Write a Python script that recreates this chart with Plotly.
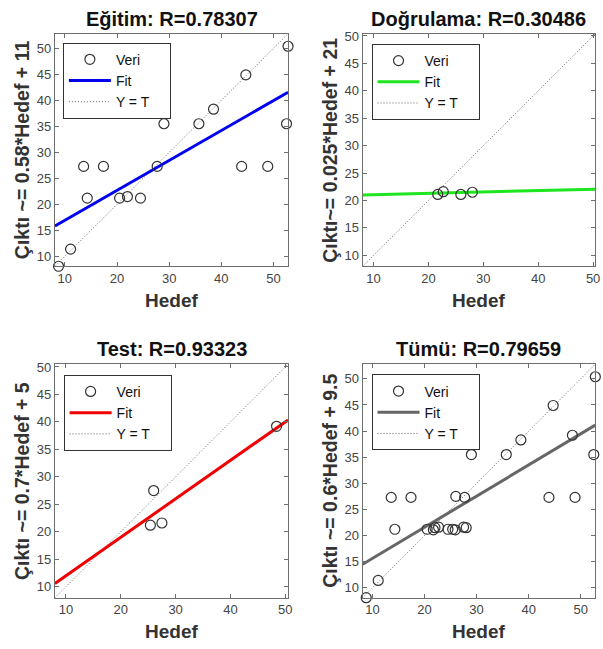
import plotly.graph_objects as go

# ---------------- data ----------------
train_t = [8.8, 11.1, 13.6, 14.3, 17.4, 20.5, 22.0, 24.5, 27.7, 29.0, 35.7, 38.5, 43.9, 44.7, 48.9, 52.5, 52.8]
train_y = [8.1, 11.4, 27.3, 21.2, 27.3, 21.2, 21.5, 21.2, 27.3, 35.5, 35.5, 38.3, 27.3, 44.9, 27.3, 35.5, 50.4]
val_t = [21.7, 22.7, 25.9, 28.0]
val_y = [21.1, 21.6, 21.1, 21.5]
test_t = [25.4, 26.0, 27.5, 48.4]
test_y = [21.2, 27.5, 21.6, 39.2]
all_t = train_t + val_t + test_t
all_y = train_y + val_y + test_y

titles = ["Eğitim: R=0.78307", "Doğrulama: R=0.30486", "Test: R=0.93323", "Tümü: R=0.79659"]
ylabels = ["Çıktı ~= 0.58*Hedef + 11", "Çıktı~= 0.025*Hedef + 21",
           "Çıktı ~= 0.7*Hedef + 5", "Çıktı ~= 0.6*Hedef + 9.5"]
xlabel = "Hedef"
fit_slope = [0.575, 0.025, 0.70, 0.596]
fit_icpt = [11.2, 20.8, 5.0, 9.67]
fit_colors = ["#0000f0", "#1ee61e", "#f00000", "#666666"]
axis_lo = [8.1, 8.0, 8.0, 8.1]
axis_hi = [52.8, 50.4, 50.5, 52.8]
legend_names = ["Veri", "Fit", "Y = T&nbsp;&nbsp;&nbsp;&nbsp;"]

datasets = [(train_t, train_y), (val_t, val_y), (test_t, test_y), (all_t, all_y)]

# ---------------- layout geometry (pixels) ----------------
W, H = 603, 649
boxes = [  # left, right, top, bottom
    (55.3, 290.0, 29.0, 263.3),
    (365.0, 599.3, 29.0, 263.3),
    (55.3, 290.0, 362.0, 597.3),
    (365.0, 599.3, 362.0, 597.3),
]
legend_pos = [(63.3, 38.0), (374.0, 39.3), (64.0, 372.7), (374.0, 372.3)]

FONT = "Liberation Sans, Arial, Helvetica, sans-serif"
fig = go.Figure()
annotations = []

for i, ((t, y), (l, r, tp, bt)) in enumerate(zip(datasets, boxes)):
    xa = "x" if i == 0 else f"x{i+1}"
    ya = "y" if i == 0 else f"y{i+1}"
    lg = "legend" if i == 0 else f"legend{i+1}"
    lo, hi = axis_lo[i], axis_hi[i]
    # Y = T
    fig.add_trace(go.Scatter(x=[lo, hi], y=[lo, hi], mode="lines", name=legend_names[2],
                             line=dict(color="#666666", width=1, dash="1px,2px"),
                             xaxis=xa, yaxis=ya, legend=lg, hoverinfo="skip"))
    # Fit
    fx = [lo, hi]
    fy = [fit_slope[i] * v + fit_icpt[i] for v in fx]
    fig.add_trace(go.Scatter(x=fx, y=fy, mode="lines", name=legend_names[1],
                             line=dict(color=fit_colors[i], width=3),
                             xaxis=xa, yaxis=ya, legend=lg))
    # Data
    fig.add_trace(go.Scatter(x=t, y=y, mode="markers", name=legend_names[0],
                             marker=dict(symbol="circle-open", size=10, color="#333333",
                                         line=dict(width=1.2, color="#333333")),
                             cliponaxis=False,
                             xaxis=xa, yaxis=ya, legend=lg))

    axcommon = dict(showgrid=False, zeroline=False, showline=True, mirror="ticks",
                    linecolor="#6e6e6e", linewidth=1, ticks="inside", ticklen=4,
                    tickcolor="#6e6e6e", tickfont=dict(family=FONT, size=13, color="#444444"),
                    range=[lo, hi])
    xkey = "xaxis" if i == 0 else f"xaxis{i+1}"
    ykey = "yaxis" if i == 0 else f"yaxis{i+1}"
    fig.update_layout(**{
        xkey: dict(axcommon, domain=[l / W, r / W], anchor=ya, tick0=10, dtick=10),
        ykey: dict(axcommon, domain=[1 - bt / H, 1 - tp / H], anchor=xa, tick0=10, dtick=5),
    })
    lx, ly = legend_pos[i]
    fig.update_layout(**{lg: dict(x=lx / W, y=1 - ly / H, xanchor="left", yanchor="top",
                                  bgcolor="white", bordercolor="#333333", borderwidth=1,
                                  traceorder="reversed", tracegroupgap=0, itemwidth=42,
                                  font=dict(family=FONT, size=14, color="#111111"))})
    cx = (l + r) / 2 / W
    cy = (tp + bt) / 2
    # title
    annotations.append(dict(text=f"<b>{titles[i]}</b>", x=cx, y=1 - (tp - 15) / H,
                            xref="paper", yref="paper", showarrow=False,
                            xanchor="center", yanchor="middle",
                            font=dict(family=FONT, size=20, color="#111111")))
    # x label
    annotations.append(dict(text=f"<b>{xlabel}</b>", x=cx, y=1 - (bt + 34) / H,
                            xref="paper", yref="paper", showarrow=False,
                            xanchor="center", yanchor="middle",
                            font=dict(family=FONT, size=19, color="#333333")))
    # y label
    annotations.append(dict(text=f"<b>{ylabels[i]}</b>", x=(l - 33) / W, y=1 - cy / H,
                            xref="paper", yref="paper", showarrow=False, textangle=-90,
                            xanchor="center", yanchor="middle",
                            font=dict(family=FONT, size=19.5, color="#333333")))

fig.update_layout(width=W, height=H, margin=dict(l=0, r=0, t=0, b=0),
                  paper_bgcolor="white", plot_bgcolor="white",
                  annotations=annotations, showlegend=True)
fig.write_html("out.html", config={"displayModeBar": False},
               post_script="document.body.style.margin='0';document.body.style.overflow='hidden';")
